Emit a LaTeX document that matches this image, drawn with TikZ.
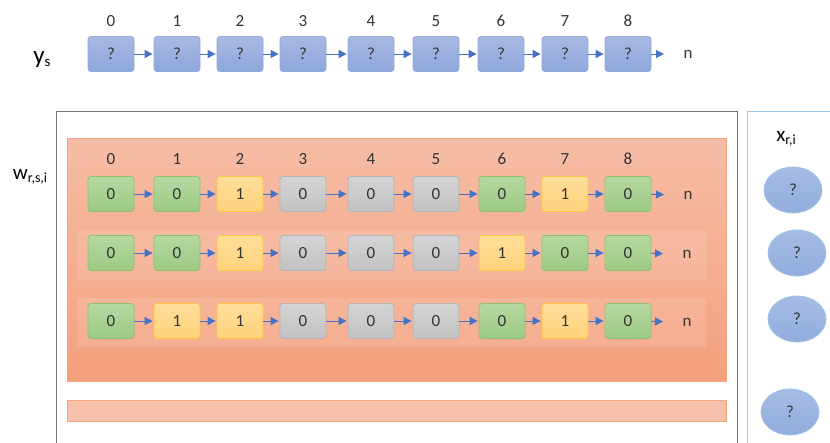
\documentclass[tikz,border=0pt]{standalone}
\usepackage{fontspec}
\setmainfont{Carlito}
\usetikzlibrary{arrows.meta,shapes.geometric}
\definecolor{qtop}{HTML}{A9B9E3}
\definecolor{qbot}{HTML}{8FA6DB}
\definecolor{qline}{HTML}{8EA9DB}
\definecolor{gtop}{HTML}{B6D8A2}
\definecolor{gbot}{HTML}{9CCA83}
\definecolor{gline}{HTML}{8CC26E}
\definecolor{ytop}{HTML}{FFDE9A}
\definecolor{ybot}{HTML}{FFD37C}
\definecolor{yline}{HTML}{FFC83D}
\definecolor{ztop}{HTML}{D4D4D4}
\definecolor{zbot}{HTML}{C2C2C2}
\definecolor{zline}{HTML}{B4B4B4}
\definecolor{otop}{HTML}{F6BDA6}
\definecolor{obot}{HTML}{F4A07D}
\definecolor{oline}{HTML}{F4A47F}
\definecolor{linkblue}{HTML}{4472C4}
\definecolor{frameblue}{HTML}{9DC3E6}
\definecolor{ink}{HTML}{333333}
\tikzset{
  cell/.style={rounded corners=3pt, minimum width=46pt, minimum height=35pt,
    line width=0.8pt, text=ink, font=\fontsize{17}{20}\selectfont},
  cellq/.style={cell, draw=qline, top color=qtop, bottom color=qbot},
  cellg/.style={cell, draw=gline, top color=gtop, bottom color=gbot},
  celly/.style={cell, draw=yline, top color=ytop, bottom color=ybot},
  cellz/.style={cell, draw=zline, top color=ztop, bottom color=zbot},
  link/.style={draw=linkblue, line width=1pt, shorten >=1pt,
    -{Triangle[length=8pt,width=8pt]}},
  idx/.style={text=ink, font=\fontsize{17}{20}\selectfont},
  blob/.style={ellipse, minimum width=58pt, minimum height=46pt, inner sep=0pt,
    draw=frameblue, line width=0.8pt, top color=qtop!70!frameblue,
    bottom color=qbot!80!frameblue, text=ink, font=\fontsize{17}{20}\selectfont},
}
\begin{document}
\begin{tikzpicture}[x=1pt, y=-1pt]
    \useasboundingbox (0,0) rectangle (830,442);
    \clip (0,0) rectangle (830,442);

    % Frames
    \draw[line width=1pt, black!55] (56,111) rectangle (737,460);
    \draw[line width=1pt, frameblue] (747,111) rectangle (850,460);
    \draw[oline, top color=otop, bottom color=obot] (67,138) rectangle (726,381);
    \draw[oline, fill=otop!95!white] (67,400) rectangle (726,421);
    \fill[white, fill opacity=0.12] (78,231) rectangle (707,280);
    \fill[white, fill opacity=0.12] (77,298) rectangle (706,347);

    % Labels
    \node[text=black] (ys) at (42,60) {\fontsize{25}{28}\selectfont y\raisebox{-3pt}{\fontsize{15}{16}\selectfont s}};
    \node[text=black] (wrsi) at (30,177) {\fontsize{21}{24}\selectfont w\raisebox{-3pt}{\fontsize{14}{16}\selectfont r,s,i}};
    \node[text=black] (xri) at (786,139) {\fontsize{21}{24}\selectfont x\raisebox{-3pt}{\fontsize{14}{16}\selectfont r,i}};

    % Row y
    \foreach \x [count=\i from 0] in {111,177,240,303,371,436,501,565,628} {
        \node[cellq] (y\i) at (\x,54) {?};
        \node[idx] at (\x,21) {\i};
    }
    \foreach \i in {1,...,8} {\pgfmathtruncatemacro\p{\i-1}\draw[link] (y\p) -- (y\i);}
    \node[idx] (yn) at (688,54) {n};
    \draw[link, shorten >=16pt] (y8) -- (yn);

    % Row 1
    \foreach \x [count=\i from 0] in {111,177,240,303,371,436,502,565,628}
        \node[idx] at (\x,159) {\i};
    \foreach \x/\s/\v [count=\i from 0] in {111/g/0,177/g/0,240/y/1,303/z/0,371/z/0,436/z/0,502/g/0,565/y/1,628/g/0}
        \node[cell\s] (a\i) at (\x,194) {\v};
    \foreach \i in {1,...,8} {\pgfmathtruncatemacro\p{\i-1}\draw[link] (a\p) -- (a\i);}
    \node[idx] (an) at (688,195) {n};
    \draw[link, shorten >=16pt] (a8) -- (an);

    % Row 2
    \foreach \x/\s/\v [count=\i from 0] in {111/g/0,177/g/0,240/y/1,303/z/0,371/z/0,436/z/0,502/y/1,565/g/0,628/g/0}
        \node[cell\s] (b\i) at (\x,253) {\v};
    \foreach \i in {1,...,8} {\pgfmathtruncatemacro\p{\i-1}\draw[link] (b\p) -- (b\i);}
    \node[idx] (bn) at (687,254) {n};
    \draw[link, shorten >=16pt] (b8) -- (bn);

    % Row 3
    \foreach \x/\s/\v [count=\i from 0] in {111/g/0,177/y/1,240/y/1,303/z/0,371/z/0,436/z/0,502/g/0,565/y/1,628/g/0}
        \node[cell\s] (c\i) at (\x,321) {\v};
    \foreach \i in {1,...,8} {\pgfmathtruncatemacro\p{\i-1}\draw[link] (c\p) -- (c\i);}
    \node[idx] (cn) at (687,322) {n};
    \draw[link, shorten >=16pt] (c8) -- (cn);

    % Column x
    \node[blob] (x1) at (793,190) {?};
    \node[blob] (x2) at (797,253) {?};
    \node[blob] (x3) at (797,319) {?};
    \node[blob] (x4) at (790,412) {?};
\end{tikzpicture}
\end{document}
